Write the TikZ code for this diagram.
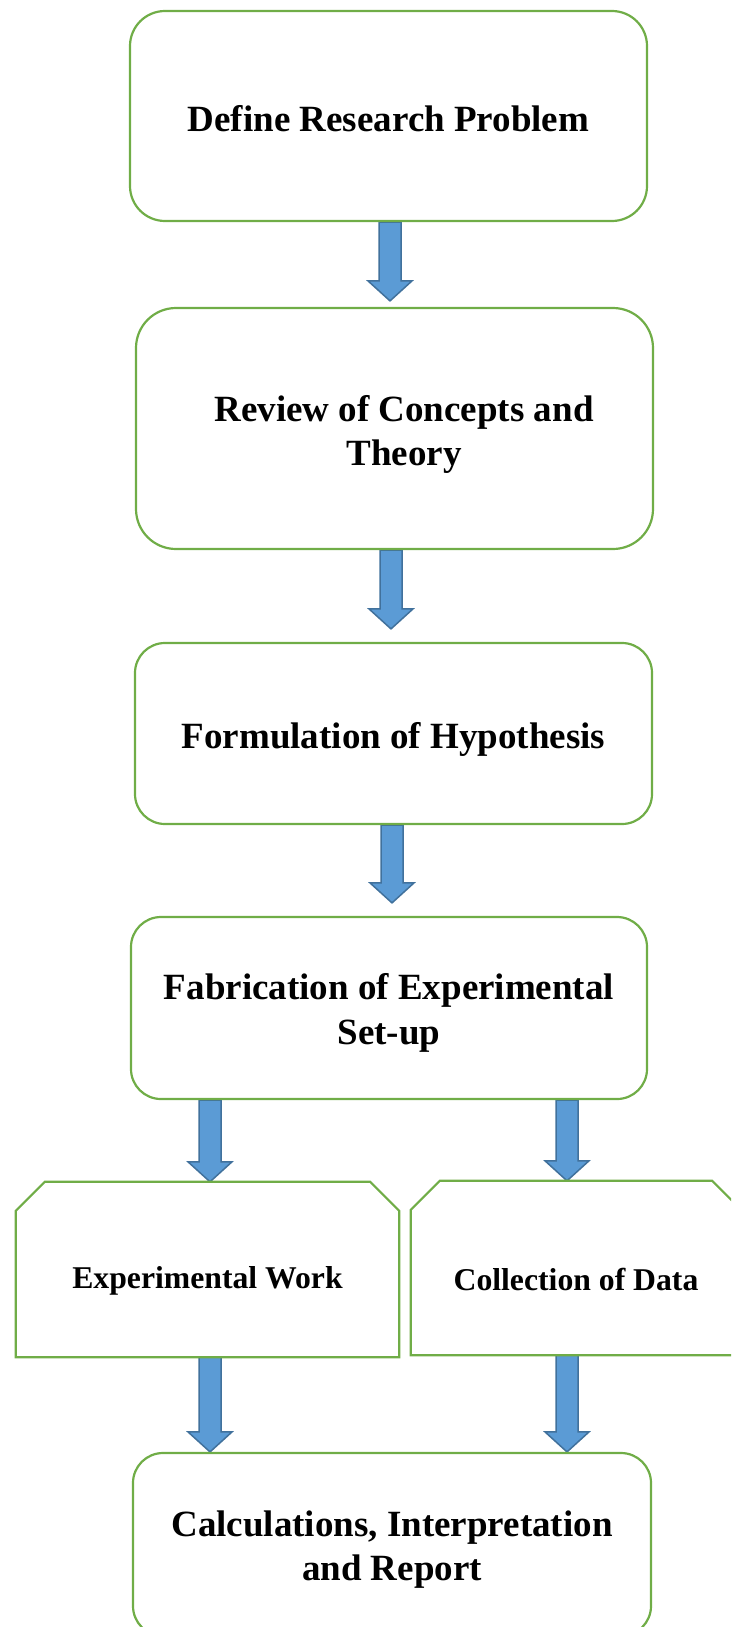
\documentclass[tikz,border=0pt]{standalone}
\usepackage{fontspec}
\setmainfont{Liberation Serif}
\usepackage{tikz}
\usetikzlibrary{backgrounds}

\definecolor{boxgreen}{HTML}{70AD47}
\definecolor{arrowfill}{HTML}{5B9BD5}
\definecolor{arrowline}{HTML}{41719C}

\tikzset{
    stagebox/.style={draw=boxgreen, line width=2.2pt, inner sep=0pt},
    snipbox/.style={inner sep=0pt},
    snipline/.style={draw=boxgreen, line width=2.2pt, line join=miter},
    stagetext/.style={align=center, inner sep=0pt, font=\bfseries\fontsize{37}{44.6}\selectfont},
    sniptext/.style={align=center, inner sep=0pt, font=\bfseries\fontsize{31.7}{38}\selectfont},
    barrow/.style={fill=arrowfill, draw=arrowline, line width=1.5pt, line join=miter}
}

% block arrow: x position, from node, to node, gap above the box
\newcommand{\blockarrow}[4]{
    \coordinate (s) at (#1,0 |- #2.south);
    \coordinate (t) at ([yshift=#4]#1,0 |- #3.north);
    \draw[barrow] ([shift={(-11,0)}]s) -- ([shift={(-11,-20)}]t) -- ([shift={(-22,-20)}]t)
        -- (t) -- ([shift={(22,-20)}]t) -- ([shift={(11,-20)}]t) -- ([shift={(11,0)}]s) -- cycle;
}

% outline with the two top corners cut off
\newcommand{\snipoutline}[1]{
    \draw[snipline] (#1.south west) -- ([yshift=-29pt]#1.north west) -- ([xshift=29pt]#1.north west)
        -- ([xshift=-29pt]#1.north east) -- ([yshift=-29pt]#1.north east) -- (#1.south east) -- cycle;
}

\begin{document}
\begin{tikzpicture}[x=1pt, y=-1pt]
    \useasboundingbox (0,0) rectangle (731,1627);
    \clip (0,0) rectangle (731,1627);

    % stages
    \node[stagebox, rounded corners=35pt, minimum width=517pt, minimum height=210pt] (define) at (388.5,116) {};
    \node[stagetext] (define-text) at ([shift={(0,3)}]define.center) {Define Research Problem};
    \node[stagebox, rounded corners=40pt, minimum width=517pt, minimum height=241pt] (review) at (394.5,428.5) {};
    \node[stagetext] (review-text) at ([shift={(9.5,6)}]review.center) {Review of Concepts and\\Theory};
    \node[stagebox, rounded corners=30pt, minimum width=517pt, minimum height=181pt] (hypo) at (393.5,733.5) {};
    \node[stagetext] (hypo-text) at ([shift={(0,6)}]hypo.center) {Formulation of Hypothesis};
    \node[stagebox, rounded corners=30pt, minimum width=516pt, minimum height=182pt] (setup) at (389,1008) {};
    \node[stagetext] (setup-text) at ([shift={(0,5)}]setup.center) {Fabrication of Experimental\\Set-up};

    % two branches
    \node[snipbox, minimum width=383pt, minimum height=175pt] (work) at (207.5,1269.5) {};
    \snipoutline{work}
    \node[sniptext] (work-text) at ([shift={(0,11)}]work.center) {Experimental Work};
    \node[snipbox, minimum width=330pt, minimum height=174pt] (data) at (576,1268) {};
    \snipoutline{data}
    \node[sniptext] (data-text) at ([shift={(0,11)}]data.center) {Collection of Data};

    % last stage
    \node[stagebox, rounded corners=30pt, minimum width=518pt, minimum height=183pt] (report) at (392,1544.5) {};
    \node[stagetext] (report-text) at ([shift={(0,5)}]report.center) {Calculations, Interpretation\\and Report};

    % arrows
    \begin{scope}[on background layer]
        \blockarrow{390}{define}{review}{6pt}
        \blockarrow{391}{review}{hypo}{13pt}
        \blockarrow{392}{hypo}{setup}{13pt}
        \blockarrow{210}{setup}{work}{0pt}
        \blockarrow{567}{setup}{data}{0pt}
        \blockarrow{210}{work}{report}{0pt}
        \blockarrow{567}{data}{report}{0pt}
    \end{scope}
\end{tikzpicture}
\end{document}
